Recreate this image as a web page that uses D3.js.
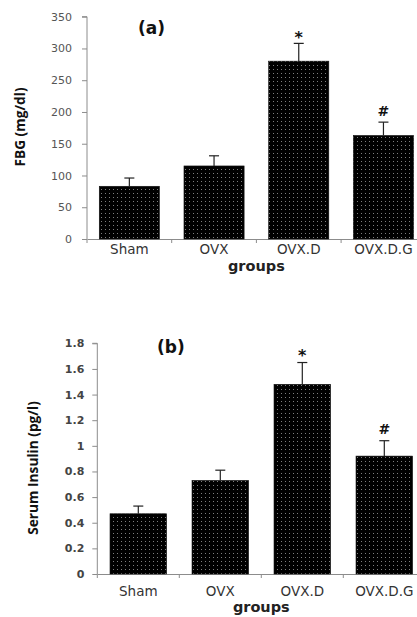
<!DOCTYPE html>
<html><head><meta charset="utf-8">
<script src="https://cdn.jsdelivr.net/npm/d3@7"></script>
<style>body{margin:0;background:#fff}svg{display:block}</style>
</head><body>
<svg id="c" width="417" height="617"></svg>
<script>
const categories = ["Sham", "OVX", "OVX.D", "OVX.D.G"];
const fbgMean = [83, 115, 280, 163];
const fbgErr = [13, 16, 28, 21];
const fbgTicks = [0, 50, 100, 150, 200, 250, 300, 350];
const insMean = [0.47, 0.73, 1.48, 0.92];
const insErr = [0.06, 0.08, 0.17, 0.12];
const insTicks = [0, 0.2, 0.4, 0.6, 0.8, 1, 1.2, 1.4, 1.6, 1.8];
const sigMarks = ["", "", "*", "#"];

const FH = "DejaVu Sans, Verdana, sans-serif";
const FV = "Open Sans, sans-serif";
const svg = d3.select("#c");
const defs = svg.append("defs");
const pat = defs.append("pattern").attr("id", "dots").attr("patternUnits", "userSpaceOnUse")
  .attr("width", 4).attr("height", 4);
pat.append("rect").attr("width", 4).attr("height", 4).attr("fill", "#000");
pat.append("rect").attr("x", 1).attr("y", 1).attr("width", 1).attr("height", 1).attr("fill", "#7e7e7e");

function panel(o) {
  const x = d3.scaleBand().domain(categories).range([o.x0, o.x0 + 4 * o.step]).padding(0);
  const y = d3.scaleLinear().domain(o.domain).range([o.y0, o.y1]);
  const g = svg.append("g");
  // y axis
  const ya = g.append("g").attr("transform", `translate(${o.x0},0)`)
    .call(d3.axisLeft(y).tickValues(o.ticks).tickSize(5).tickPadding(o.tickPad).tickFormat(d => String(d)));
  ya.select(".domain").attr("stroke", "#8c8c8c").attr("d", `M-5,${o.y1}H0V${o.y0}`);
  ya.selectAll(".tick line").attr("stroke", "#8c8c8c");
  ya.selectAll("text").attr("fill", o.tickColor).style("font-family", FH)
    .style("font-size", "11px").style("font-weight", o.tickWeight);
  // x axis
  const xa = g.append("g").attr("transform", `translate(0,${o.y0})`)
    .call(d3.axisBottom(x).tickSize(0).tickPadding(o.catPad));
  xa.select(".domain").attr("stroke", "#8c8c8c");
  xa.selectAll(".tick line").remove();
  xa.selectAll("text").attr("fill", "#333").style("font-family", FH).style("font-size", "13.5px");
  // category ticks at band edges
  g.selectAll(".ct").data(categories).join("line")
    .attr("x1", d => x(d)).attr("x2", d => x(d)).attr("y1", o.y0).attr("y2", o.y0 + 4)
    .attr("stroke", "#8c8c8c");
  const bw = x.bandwidth() * o.barFrac;
  // bars
  g.selectAll(".bar").data(categories).join("rect")
    .attr("x", d => x(d) + (x.bandwidth() - bw) / 2)
    .attr("y", (d, i) => y(o.mean[i]))
    .attr("width", bw)
    .attr("height", (d, i) => o.y0 - y(o.mean[i]))
    .attr("fill", "url(#dots)").attr("stroke", "#111").attr("stroke-width", 0.6);
  // error bars
  const cx = d => x(d) + x.bandwidth() / 2;
  g.selectAll(".eb").data(categories).join("line")
    .attr("x1", cx).attr("x2", cx)
    .attr("y1", (d, i) => y(o.mean[i])).attr("y2", (d, i) => y(o.mean[i] + o.err[i]))
    .attr("stroke", "#222").attr("stroke-width", 1.2);
  g.selectAll(".ec").data(categories).join("line")
    .attr("x1", d => cx(d) - 5).attr("x2", d => cx(d) + 5)
    .attr("y1", (d, i) => y(o.mean[i] + o.err[i])).attr("y2", (d, i) => y(o.mean[i] + o.err[i]))
    .attr("stroke", "#222").attr("stroke-width", 1.2);
  // significance marks
  g.selectAll(".sig").data(categories).join("text")
    .attr("x", cx)
    .attr("y", (d, i) => y(o.mean[i] + o.err[i]) - (sigMarks[i] === "*" ? o.starGap : o.hashGap))
    .attr("text-anchor", "middle").attr("font-family", FH)
    .attr("font-weight", "bold").attr("font-size", (d, i) => sigMarks[i] === "*" ? 16 : 14).attr("fill", "#111")
    .text((d, i) => sigMarks[i]);
  // panel label
  g.append("text").attr("x", o.labX).attr("y", o.labY).attr("font-family", FH)
    .attr("font-weight", "bold").attr("font-size", 17).attr("fill", "#111").text(o.label);
  // axis titles
  g.append("text").attr("transform", `translate(${o.ytX},${o.ytY}) rotate(-90)`)
    .attr("text-anchor", "middle").attr("font-family", FV)
    .attr("font-weight", "bold").attr("font-size", 13.7).attr("fill", "#111").text(o.ytitle);
  g.append("text").attr("x", o.x0 + 2 * o.step).attr("y", o.xtY).attr("text-anchor", "middle")
    .attr("font-family", FH).attr("font-weight", "bold")
    .attr("font-size", 14.5).attr("fill", "#222").text("groups");
}

panel({x0: 87, step: 84.7, y0: 239, y1: 16.7, domain: [0, 350], ticks: fbgTicks, tickPad: 10,
  mean: fbgMean, err: fbgErr, barFrac: 0.71, starGap: 0, hashGap: 6, catPad: 5,
  tickColor: "#555", tickWeight: "normal",
  label: "(a)", labX: 138, labY: 34, ytitle: "FBG (mg/dl)", ytX: 25, ytY: 127, xtY: 271});
panel({x0: 97.3, step: 82, y0: 574, y1: 343.3, domain: [0, 1.8], ticks: insTicks, tickPad: 8,
  mean: insMean, err: insErr, barFrac: 0.69, starGap: 2, hashGap: 7, catPad: 12,
  tickColor: "#444", tickWeight: "bold",
  label: "(b)", labX: 157, labY: 353, ytitle: "Serum Insulin (pg/l)", ytX: 38, ytY: 468, xtY: 612});
</script>
</body></html>
